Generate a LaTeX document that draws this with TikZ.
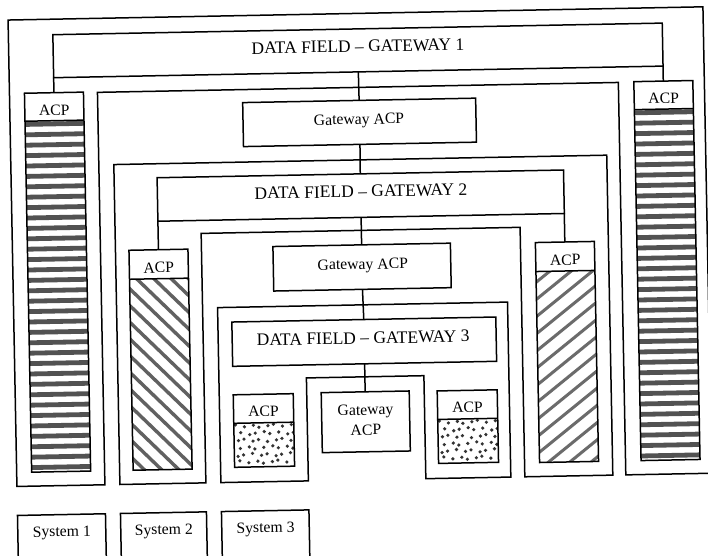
\documentclass[tikz,border=0pt]{standalone}
\usepackage{fontspec}
\setmainfont{Liberation Serif}
\begin{document}
\begin{tikzpicture}[x=1pt,y=-1pt,
  frame/.style={draw=black,line width=1.5pt,line join=miter},
  box/.style={draw=black,line width=1.5pt,inner sep=0pt,outer sep=0pt,rectangle},
  conn/.style={draw=black,line width=1.5pt},
  bigtext/.style={font=\fontsize{17.5}{21}\selectfont,inner sep=0pt,anchor=base},
  smalltext/.style={font=\fontsize{15.7}{19}\selectfont,inner sep=0pt,anchor=base},
  hband/.style={fill=black!68},
  dstripe/.style={draw=black!62,line width=3.4pt},
  ustripe/.style={draw=black!58,line width=3pt},
  speck/.style={fill=black!80}]
\useasboundingbox (0,0) rectangle (708,555);
\clip (0,0) rectangle (708,555);
\fill[white] (0,0) rectangle (708,555);
\begin{scope}[rotate around={1.09:(354,277)},transform shape]

% system regions, each with a notch for the next level
\draw[frame] (13,13.5) -- (708,13.5) -- (708,480) -- (622,480) -- (622,87.5)
  -- (101,87.5) -- (101,480) -- (13,480) -- cycle;
\draw[frame] (116,160) -- (609,160) -- (609,480) -- (521,480) -- (521,230.5)
  -- (202,230.5) -- (202,480) -- (116,480) -- cycle;
\draw[frame] (217,305) -- (507,305) -- (507,480) -- (422,480) -- (422,377)
  -- (304.5,377) -- (304.5,480) -- (217,480) -- cycle;

% horizontal stripes (level 1 ACPs)
\begin{scope}
  \clip (28,115) rectangle (87,466);
  \foreach \k in {0,...,33} \fill[hband] (28,{115.8+\k*10.4}) rectangle (87,{120.6+\k*10.4});
\end{scope}
\begin{scope}
  \clip (637.5,115) rectangle (696.5,466);
  \foreach \k in {0,...,33} \fill[hband] (637.5,{115.8+\k*10.4}) rectangle (696.5,{120.6+\k*10.4});
\end{scope}

% diagonal stripes (level 2 ACPs)
\begin{scope}
  \clip (129.5,275) rectangle (188.5,466);
  \foreach \k in {-5,...,12} \draw[dstripe] (120,{275+\k*17}) -- ++(80,80);
\end{scope}
\begin{scope}
  \clip (536,275) rectangle (595,466);
  \foreach \k in {0,...,16} \draw[ustripe] (528,{275+\k*17}) -- ++(80,-62.5);
\end{scope}

% speckled fill (level 3 ACPs)
\foreach \bx in {231,435} {
  \begin{scope}
    \clip (\bx,421) rectangle ({\bx+60},465);
    \foreach \i in {0,...,7} {
      \foreach \j in {0,...,5} {
        \pgfmathsetmacro\jx{mod(\i*37+\j*17,5)-2}
        \pgfmathsetmacro\jy{mod(\i*23+\j*41,5)-2}
        \fill[speck] ({\bx+3+\i*7.6+mod(\j,2)*3.8+\jx*0.7},{424+\j*7.2+\jy*0.7}) circle (1.8);
      }
    }
  \end{scope}
}

% data field and gateway boxes
\node[box,minimum width=609.5,minimum height=43] (df1) at (362.25,50.5) {};
\node[box,minimum width=233,minimum height=44] (gw1) at (362.5,122.5) {};
\node[box,minimum width=406.5,minimum height=43.5] (df2) at (362.25,195.75) {};
\node[box,minimum width=177.5,minimum height=44.5] (gw2) at (362.25,267.25) {};
\node[box,minimum width=264,minimum height=44.3] (df3) at (363,341.85) {};
\node[box,minimum width=88,minimum height=60] (gw3) at (363,422) {};

% ACP columns
\node[box,minimum width=59,minimum height=379] (acp1l) at (57.5,276.5) {};
\node[box,minimum width=59,minimum height=379] (acp1r) at (667,276.5) {};
\node[box,minimum width=59,minimum height=220] (acp2l) at (159,356) {};
\node[box,minimum width=59,minimum height=220] (acp2r) at (565.5,356) {};
\node[box,minimum width=60,minimum height=72.5] (acp3l) at (261,428.75) {};
\node[box,minimum width=60,minimum height=72.5] (acp3r) at (465,428.75) {};
\draw[frame] (28,115) -- (87,115);
\draw[frame] (637.5,115) -- (696.5,115);
\draw[frame] (129.5,275) -- (188.5,275);
\draw[frame] (536,275) -- (595,275);
\draw[frame] (231,421) -- (291,421);
\draw[frame] (435,421) -- (495,421);

% connectors
\draw[conn] (df1.south) -- (gw1.north);
\draw[conn] (gw1.south) -- (df2.north);
\draw[conn] (df2.south) -- (gw2.north);
\draw[conn] (gw2.south) -- (df3.north);
\draw[conn] (df3.south) -- (gw3.north);
\draw[conn] (df1.south west) -- (acp1l.north);
\draw[conn] (df1.south east) -- (acp1r.north);
\draw[conn] (df2.south west) -- (acp2l.north);
\draw[conn] (df2.south east) -- (acp2r.north);

% labels
\node[bigtext] (df1t) at (362.3,52.2) {DATA FIELD – GATEWAY 1};
\node[smalltext] (gw1t) at (362,124.5) {Gateway ACP};
\node[bigtext] (df2t) at (362.6,197.3) {DATA FIELD – GATEWAY 2};
\node[smalltext] (gw2t) at (363,269.5) {Gateway ACP};
\node[bigtext] (df3t) at (362,344) {DATA FIELD – GATEWAY 3};
\node[smalltext] (gw3a) at (363,415.2) {Gateway};
\node[smalltext] (gw3b) at (363,435.2) {ACP};
\node[smalltext] (acp1lt) at (57.5,109.5) {ACP};
\node[smalltext] (acp1rt) at (667,109.5) {ACP};
\node[smalltext] (acp2lt) at (159,269) {ACP};
\node[smalltext] (acp2rt) at (565.5,269) {ACP};
\node[smalltext] (acp3lt) at (261,414.5) {ACP};
\node[smalltext] (acp3rt) at (465,414.5) {ACP};

% system legend
\node[box,minimum width=88,minimum height=70] (sys1) at (57,544) {};
\node[box,minimum width=86,minimum height=70] (sys2) at (159,544) {};
\node[box,minimum width=87.5,minimum height=70] (sys3) at (260.75,544) {};
\node[smalltext] (sys1t) at (57,531) {System 1};
\node[smalltext] (sys2t) at (159,531) {System 2};
\node[smalltext] (sys3t) at (260.75,531) {System 3};
\end{scope}
\end{tikzpicture}
\end{document}
